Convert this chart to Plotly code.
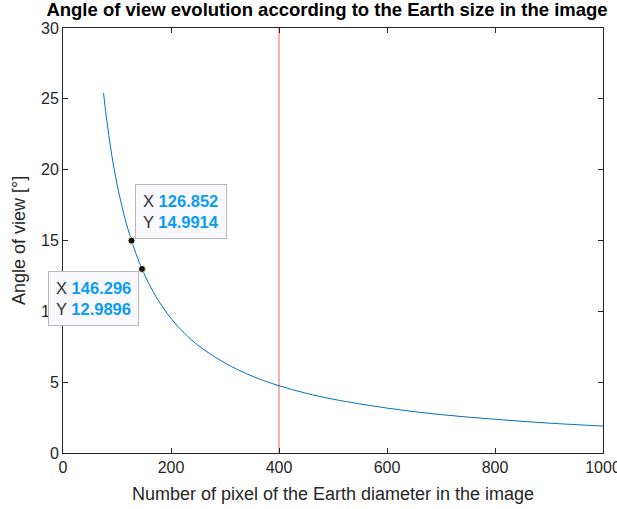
import plotly.graph_objects as go

# Data
pixels = [75, 80, 85, 90, 95, 100, 105, 110, 115, 120, 126.852, 135, 146.296, 160, 175,
          200, 225, 250, 300, 350, 400, 450, 500, 600, 700, 800, 900, 1000]
angle = [25.4, 23.8, 22.4, 21.1, 20.0, 19.0, 18.1, 17.3, 16.5, 15.85, 14.9914, 14.08, 12.9896,
         11.88, 10.86, 9.5, 8.45, 7.6, 6.35, 5.43, 4.75, 4.22, 3.8, 3.17, 2.71, 2.38, 2.11, 1.9]
tips_x = [126.852, 146.296]
tips_y = [14.9914, 12.9896]
ref_x = [400, 400]
ref_y = [0, 30]
x_ticks = [0, 200, 400, 600, 800, 1000]
y_ticks = [0, 5, 10, 15, 20, 25, 30]

axis_col = "#262626"
font_fam = "Liberation Sans, Arial, sans-serif"

fig = go.Figure()
fig.add_trace(go.Scatter(x=ref_x, y=ref_y, mode="lines",
                         line=dict(color="#ff5a5a", width=1), showlegend=False))
fig.add_trace(go.Scatter(x=pixels, y=angle, mode="lines", line_shape="spline",
                         line=dict(color="#0072bd", width=1), showlegend=False))
fig.add_trace(go.Scatter(x=tips_x, y=tips_y, mode="markers",
                         marker=dict(color="#111111", size=7,
                                     line=dict(color="#f0f0c0", width=1)),
                         showlegend=False))

def tip(xv, yv):
    return (f"<span style='color:#333333'>X</span> <b><span style='color:#0a9cf5'>{xv:g}</span></b><br>"
            f"<span style='color:#333333'>Y</span> <b><span style='color:#0a9cf5'>{yv:g}</span></b>")

tip_font = dict(size=16.5, family=font_fam)
fig.add_annotation(x=tips_x[0], y=tips_y[0], xref="x", yref="y", text=tip(tips_x[0], tips_y[0]),
                   showarrow=False, xanchor="left", yanchor="bottom", xshift=3, yshift=2,
                   align="left", bgcolor="#f9f9fd", bordercolor="#b8b8b8", borderwidth=1,
                   borderpad=7, font=tip_font)
fig.add_annotation(x=tips_x[1], y=tips_y[1], xref="x", yref="y", text=tip(tips_x[1], tips_y[1]),
                   showarrow=False, xanchor="right", yanchor="top", xshift=-3, yshift=-2,
                   align="left", bgcolor="#f9f9fd", bordercolor="#b8b8b8", borderwidth=1,
                   borderpad=7, font=tip_font)

axis_common = dict(showgrid=False, zeroline=False, showline=True, linecolor=axis_col,
                   linewidth=1, mirror="ticks", ticks="inside", ticklen=5,
                   tickcolor=axis_col, ticklabeloverflow="allow", automargin=False,
                   tickfont=dict(size=16, color=axis_col, family=font_fam))

fig.update_layout(
    width=617, height=509,
    margin=dict(l=63, r=14, t=28, b=56, autoexpand=False),
    paper_bgcolor="white", plot_bgcolor="white",
    title=dict(text="<b>Angle of view evolution according to the Earth size in the image</b>",
               x=0.53, xanchor="center", y=0.994, yanchor="top", automargin=False,
               font=dict(size=18.5, color="#000000", family=font_fam)),
    xaxis=dict(range=[0, 1000], tickvals=x_ticks, ticktext=[str(v) for v in x_ticks],
               title=dict(text="Number of pixel of the Earth diameter in the image",
                          font=dict(size=18, color=axis_col, family=font_fam), standoff=12),
               **axis_common),
    yaxis=dict(range=[0, 30], tickvals=y_ticks, ticktext=[str(v) for v in y_ticks],
               title=dict(text="Angle of view [°]",
                          font=dict(size=18, color=axis_col, family=font_fam), standoff=10),
               **axis_common),
)

fig.write_html("out.html")
